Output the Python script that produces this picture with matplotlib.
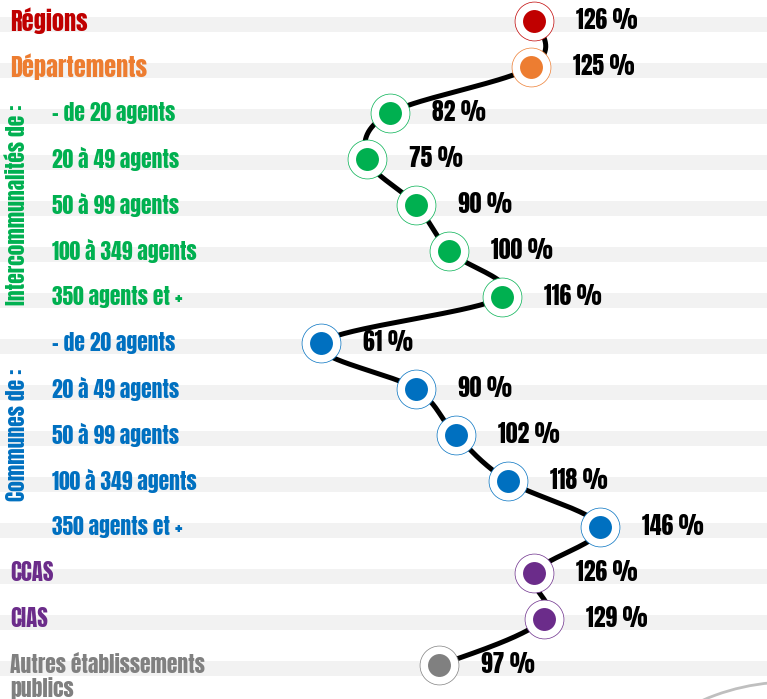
import numpy as np
import matplotlib
matplotlib.use("Agg")
import matplotlib.pyplot as plt
from matplotlib.patches import Arc

plt.rcParams['font.family'] = ['Anton', 'Oswald', 'Liberation Sans', 'DejaVu Sans']

# data
labels = ["Régions", "Départements",
          "- de 20 agents", "20 à 49 agents", "50 à 99 agents", "100 à 349 agents", "350 agents et +",
          "- de 20 agents", "20 à 49 agents", "50 à 99 agents", "100 à 349 agents", "350 agents et +",
          "CCAS", "CIAS", "Autres établissements\npublics"]
values = [126, 125, 82, 75, 90, 100, 116, 61, 90, 102, 118, 146, 126, 129, 97]
groups = ["reg", "dep", "inter", "inter", "inter", "inter", "inter",
          "com", "com", "com", "com", "com", "ccas", "cias", "autres"]

colors = {"reg": "#C00000", "dep": "#ED7D31", "inter": "#00B050", "com": "#0070C0",
          "ccas": "#6B2C8A", "cias": "#6B2C8A", "autres": "#808080"}
label_size = {"reg": 17.5, "dep": 17.5, "inter": 15.5, "com": 15.5,
              "ccas": 16.5, "cias": 16.5, "autres": 15.5}
group_titles = {"inter": "Intercommunalités de :", "com": "Communes de :"}

W, H = 767, 699
fig = plt.figure(figsize=(W / 100, H / 100), dpi=100)
ax = fig.add_axes([0, 0, 1, 1])

# pixel scales
px_per_pct = 3.282
x0 = 61 - 321 / px_per_pct
ax.set_xlim(x0, x0 + W / px_per_pct)
row_px = 46
ax.set_ylim((H - 21) / row_px, -21 / row_px)
ax.axis("off")

n = len(values)
ys = np.arange(n)

# grey bands
for i in ys:
    ax.axhspan(i - 4 / row_px, i + 11 / row_px, color="#F2F2F2", zorder=0, lw=0)

# smoothed line (bezier spline in pixel space, like excel)
P = np.column_stack([np.array(values) * px_per_pct, ys * row_px]).astype(float)
ctrl = []
for k in range(n - 1):
    p1, p2 = P[k], P[k + 1]
    c1 = p1 + (p2 - P[k - 1]) / 6 if k > 0 else None
    c2 = p2 - (P[k + 2] - p1) / 6 if k + 2 < n else None
    ctrl.append([c1, c2])
# end segments
ctrl[0][0] = (P[0] + ctrl[0][1]) / 2
ctrl[-1][1] = (P[-1] + ctrl[-1][0]) / 2
pts = []
t = np.linspace(0, 1, 40)
for k in range(n - 1):
    p1, p2 = P[k], P[k + 1]
    c1, c2 = ctrl[k]
    seg = ((1 - t) ** 3)[:, None] * p1 + (3 * (1 - t) ** 2 * t)[:, None] * c1 \
        + (3 * (1 - t) * t ** 2)[:, None] * c2 + (t ** 3)[:, None] * p2
    pts.append(seg)
pts = np.vstack(pts)
ax.plot(pts[:, 0] / px_per_pct, pts[:, 1] / row_px, color="black", lw=3.6, zorder=2,
        solid_capstyle="round")

# markers
for v, y, g in zip(values, ys, groups):
    c = colors[g]
    ax.plot(v, y, "o", ms=28, mfc="white", mec=c, mew=0.5, zorder=3)
    ax.plot(v, y, "o", ms=16.5, mfc=c, mec=c, mew=0, zorder=4)
    ax.text(v + 42 / px_per_pct, y - 1 / row_px, f"{v} %", fontsize=17,
            ha="left", va="center", color="black", zorder=5)

# category labels
xl_main = x0 + 10 / px_per_pct
xl_sub = x0 + 52 / px_per_pct
for lab, y, g in zip(labels, ys, groups):
    xx = xl_sub if g in group_titles else xl_main
    if "\n" in lab:
        ax.text(xx, y + 12 / row_px, lab, fontsize=label_size[g], color=colors[g],
                ha="left", va="center", linespacing=1.1)
    else:
        ax.text(xx, y, lab, fontsize=label_size[g], color=colors[g],
                ha="left", va="center")

for g, title in group_titles.items():
    idx = [i for i, gg in enumerate(groups) if gg == g]
    ax.text(x0 + 17 / px_per_pct, np.mean(idx), title, rotation=90, fontsize=15.5,
            color=colors[g], ha="center", va="center")

# decoration bottom right
fig.patches.append(Arc((790, -201), 436, 436, theta1=95, theta2=125, transform=None,
                       color="#BFBFBF", lw=2, figure=fig))

fig.savefig("out.png", dpi=100)
